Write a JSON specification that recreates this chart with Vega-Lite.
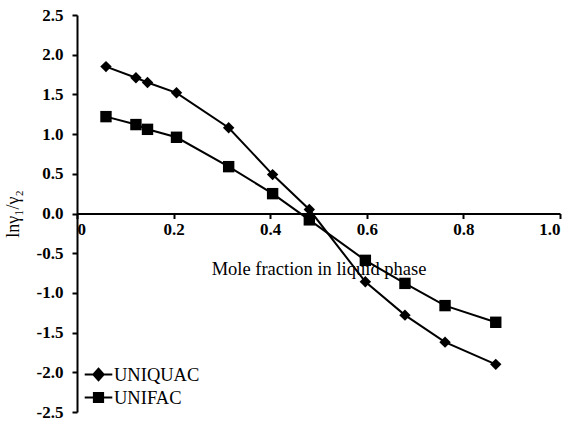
{
  "$schema": "https://vega.github.io/schema/vega-lite/v6.json",
  "autosize": {"type": "none"},
  "width": 483,
  "height": 397,
  "padding": {"left": 77, "top": 15, "right": 18, "bottom": 13},
  "background": "white",
  "config": {
    "view": {"stroke": null},
    "font": "Liberation Serif"
  },
  "data": {
    "values": [
      {"x": 0.060, "y": 1.85, "model": "UNIQUAC"},
      {"x": 0.122, "y": 1.71, "model": "UNIQUAC"},
      {"x": 0.146, "y": 1.65, "model": "UNIQUAC"},
      {"x": 0.206, "y": 1.52, "model": "UNIQUAC"},
      {"x": 0.314, "y": 1.08, "model": "UNIQUAC"},
      {"x": 0.405, "y": 0.49, "model": "UNIQUAC"},
      {"x": 0.481, "y": 0.05, "model": "UNIQUAC"},
      {"x": 0.597, "y": -0.86, "model": "UNIQUAC"},
      {"x": 0.679, "y": -1.28, "model": "UNIQUAC"},
      {"x": 0.762, "y": -1.62, "model": "UNIQUAC"},
      {"x": 0.867, "y": -1.90, "model": "UNIQUAC"},
      {"x": 0.060, "y": 1.22, "model": "UNIFAC"},
      {"x": 0.122, "y": 1.12, "model": "UNIFAC"},
      {"x": 0.146, "y": 1.06, "model": "UNIFAC"},
      {"x": 0.206, "y": 0.96, "model": "UNIFAC"},
      {"x": 0.314, "y": 0.59, "model": "UNIFAC"},
      {"x": 0.405, "y": 0.25, "model": "UNIFAC"},
      {"x": 0.481, "y": -0.08, "model": "UNIFAC"},
      {"x": 0.597, "y": -0.59, "model": "UNIFAC"},
      {"x": 0.679, "y": -0.88, "model": "UNIFAC"},
      {"x": 0.762, "y": -1.16, "model": "UNIFAC"},
      {"x": 0.867, "y": -1.37, "model": "UNIFAC"}
    ]
  },
  "encoding": {
    "x": {
      "field": "x", "type": "quantitative",
      "scale": {"domain": [0, 1], "nice": false, "zero": false},
      "axis": {
        "title": "Mole fraction in liquid phase",
        "values": [0, 0.2, 0.4, 0.6, 0.8, 1.0],
        "tickCount": 20,
        "labelExpr": "datum.value == 0 ? '0' : format(datum.value, '.1f')",
        "labelOverlap": false,
        "offset": -198.5,
        "grid": false,
        "domainColor": "black", "domainWidth": 2,
        "tickColor": "black", "tickWidth": 2, "tickSize": 5,
        "labelFont": "Liberation Serif", "labelFontWeight": "bold", "labelFontSize": 17, "labelColor": "black",
        "labelPadding": 3,
        "titleFont": "Liberation Serif", "titleFontWeight": "normal", "titleFontSize": 18.5, "titleColor": "black",
        "titlePadding": 22
      }
    },
    "y": {
      "field": "y", "type": "quantitative",
      "scale": {"domain": [-2.5, 2.5], "nice": false, "zero": false},
      "axis": {
        "title": "lnγ₁/γ₂",
        "values": [-2.5, -2, -1.5, -1, -0.5, 0, 0.5, 1, 1.5, 2, 2.5],
        "tickCount": 20,
        "labelExpr": "replace(format(datum.value, '.1f'), '−', '-')",
        "labelOverlap": false,
        "grid": false,
        "domainColor": "black", "domainWidth": 2,
        "tickColor": "black", "tickWidth": 2, "tickSize": 5,
        "labelFont": "Liberation Serif", "labelFontWeight": "bold", "labelFontSize": 17, "labelColor": "black",
        "labelPadding": 9,
        "titleFont": "Liberation Serif", "titleFontWeight": "normal", "titleFontSize": 18, "titleColor": "black",
        "titlePadding": 14
      }
    }
  },
  "layer": [
    {
      "mark": {"type": "line", "strokeWidth": 2},
      "encoding": {
        "color": {
          "field": "model", "type": "nominal",
          "scale": {"domain": ["UNIQUAC", "UNIFAC"], "range": ["black", "black"]},
          "legend": {
            "title": null,
            "orient": "none",
            "legendX": 9,
            "legendY": 347,
            "symbolSize": 529,
            "symbolFillColor": "black",
            "symbolStrokeColor": "black",
            "symbolStrokeWidth": 2,
            "labelFont": "Liberation Serif", "labelFontSize": 18.5, "labelColor": "black",
            "labelOffset": 3,
            "rowPadding": 0,
            "encode": {
              "symbols": {
                "update": {
                  "shape": {"signal": "datum.value == 'UNIQUAC' ? 'M-1.2,0H1.2M0,-0.5L0.45,0L0,0.5L-0.45,0Z' : 'M-1.2,0H1.2M-0.4,-0.4H0.4V0.4H-0.4Z'"},
                  "fill": {"value": "black"}
                }
              }
            }
          }
        }
      }
    },
    {
      "mark": {"type": "point", "filled": true, "color": "black", "opacity": 1, "size": 130},
      "encoding": {
        "shape": {
          "field": "model", "type": "nominal",
          "scale": {"domain": ["UNIFAC", "UNIQUAC"], "range": ["square", "diamond"]},
          "legend": null
        }
      }
    }
  ]
}
